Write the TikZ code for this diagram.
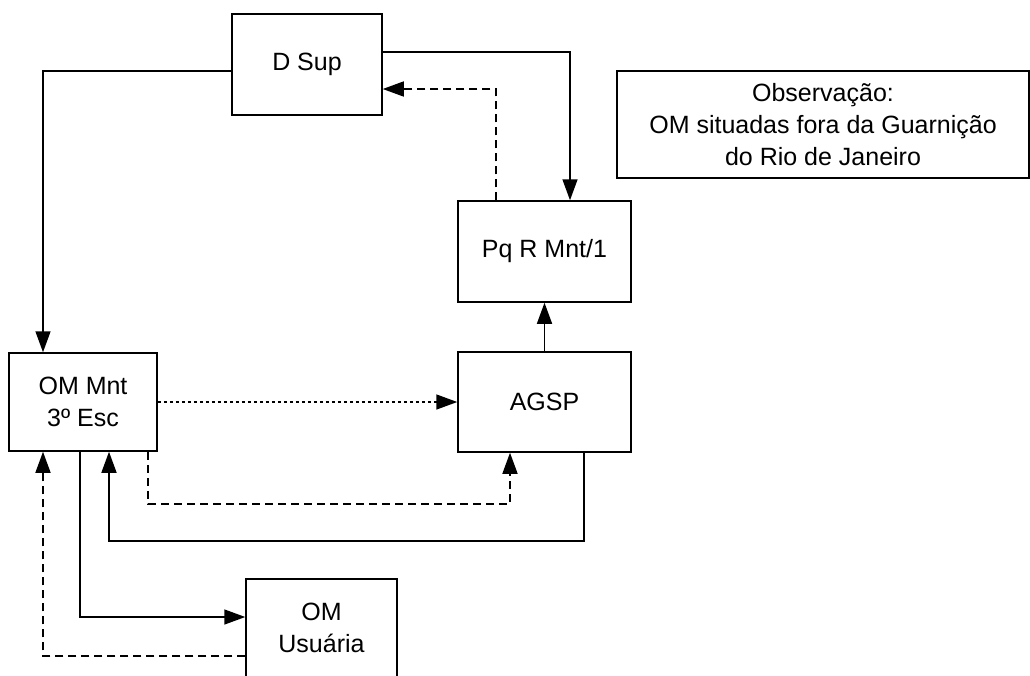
\documentclass[tikz,border=0pt]{standalone}
\usepackage{fontspec}
\setmainfont{Liberation Sans}
\usetikzlibrary{shapes, arrows.meta, positioning}
\tikzstyle{block}=[draw,fill=white,rectangle,line width=1.5pt,align=center]
\tikzstyle{every node}=[font=\fontsize{25}{32}\selectfont]
\tikzstyle{flow}=[line width=1.5pt]
\tikzstyle{dashedflow}=[flow,dash pattern=on 8pt off 5pt]
\tikzstyle{dottedflow}=[flow,dash pattern=on 3pt off 3pt]

\begin{document}
\begin{tikzpicture}[x=1pt,y=-1pt,>={Triangle[length=21pt,width=15pt]}]
    \useasboundingbox (0,0) rectangle (1030,675);
    \node[block, minimum width=148pt, minimum height=98pt] (om) at (83,402) {OM Mnt\\3º Esc};
    \node[block, minimum width=173pt, minimum height=100pt, right of=om, node distance=461.5pt] (agsp) {AGSP};
    \node[block, minimum width=173pt, minimum height=101pt, above of=agsp, node distance=150.5pt] (pq) {Pq R Mnt/1};
    \node[block, minimum width=150pt, minimum height=101pt] (dsup) at (307,64.5) {D Sup};
    \node[block, minimum width=151pt, minimum height=98pt] (usu) at (321.5,628) {OM\\Usuária};
    \node[block, minimum width=412pt, minimum height=107pt] (obs) at (823,124.5) {Observação:\\OM situadas fora da Guarnição\\do Rio de Janeiro};
    \draw[flow,->] ([yshift=-6.5pt]dsup.west) -| ([xshift=-40pt]om.north);
    \draw[flow,->] ([yshift=12.5pt]dsup.east) -| ([xshift=25.5pt]pq.north);
    \draw[dashedflow,->] ([xshift=-48.5pt]pq.north) |- ([yshift=-24.5pt]dsup.east);
    \draw[flow,->] (agsp) -- (pq);
    \draw[dottedflow,->] (om.east) -- (om.east -| agsp.west);
    \draw[dashedflow,->] ([xshift=65pt]om.south) -- ++(0,52) -| ([xshift=-34.5pt]agsp.south);
    \draw[flow,->] ([xshift=39.5pt]agsp.south) -- ++(0,88) -| ([xshift=26pt]om.south);
    \draw[flow,->] ([xshift=-3pt]om.south) |- ([yshift=11pt]usu.west);
    \draw[dashedflow,->] ([yshift=-28pt]usu.west) -| ([xshift=-40pt]om.south);
\end{tikzpicture}
\end{document}
